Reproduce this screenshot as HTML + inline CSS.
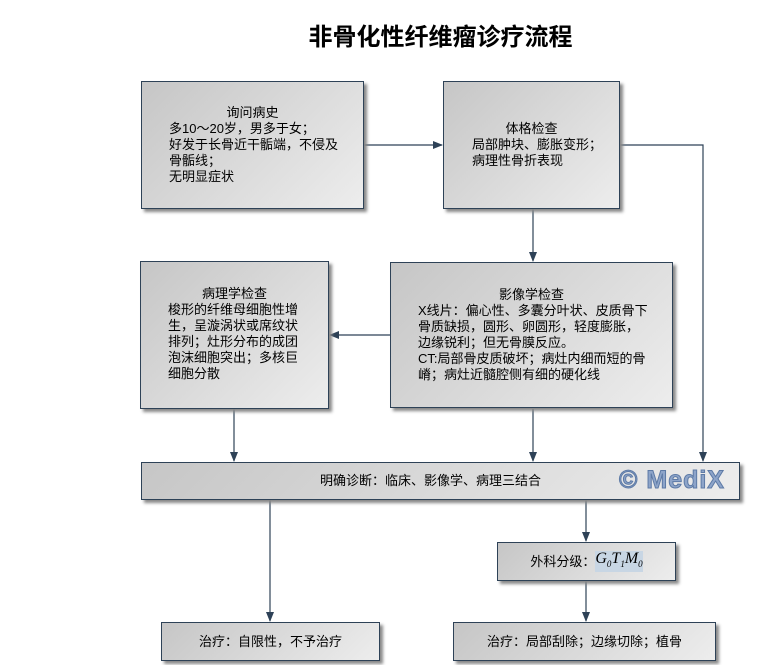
<!DOCTYPE html>
<html><head><meta charset="utf-8"><style>
body{margin:0;width:761px;height:665px;background:#fff;position:relative;overflow:hidden;font-family:"Liberation Sans","WenQuanYi Zen Hei","Noto Sans CJK SC",sans-serif;}
.b{position:absolute;box-sizing:border-box;border:1px solid #2e4257;background:linear-gradient(135deg,#c6c6c6,#ededed);box-shadow:3px 3px 3px #888;font-size:13px;line-height:16px;color:#000;}
.t{text-align:center;}
.c{display:flex;align-items:center;justify-content:center;}
h1{position:absolute;left:0;width:881px;top:17px;margin:0;text-align:center;font-size:24px;font-weight:bold;font-family:"Noto Sans CJK SC","WenQuanYi Zen Hei",sans-serif;}
svg{position:absolute;left:0;top:0;}
</style></head><body>
<h1>非骨化性纤维瘤诊疗流程</h1>
<svg width="761" height="665">
<defs><marker id="a" markerWidth="10" markerHeight="8" refX="9" refY="4" orient="auto" markerUnits="userSpaceOnUse"><path d="M0,0 L10,4 L0,8 z" fill="#2e4257"/></marker></defs>
<g stroke="#2e4257" stroke-width="1.2" fill="none">
<line x1="364" y1="145" x2="442" y2="145" marker-end="url(#a)"/>
<polyline points="620,145 703,145 703,461" marker-end="url(#a)"/>
<line x1="533" y1="209" x2="533" y2="261" marker-end="url(#a)"/>
<line x1="390" y1="335" x2="330" y2="335" marker-end="url(#a)"/>
<line x1="234" y1="409" x2="234" y2="461" marker-end="url(#a)"/>
<line x1="533" y1="409" x2="533" y2="461" marker-end="url(#a)"/>
<line x1="270" y1="500" x2="270" y2="621" marker-end="url(#a)"/>
<line x1="586" y1="500" x2="586" y2="541" marker-end="url(#a)"/>
<line x1="586" y1="581" x2="586" y2="621" marker-end="url(#a)"/>
</g></svg>
<div class="b" style="left:141px;top:81px;width:223px;height:128px;padding:23px 0 0 27px;"><div class="t" style="margin-right:27px">询问病史</div>多10～20岁，男多于女；<br>好发于长骨近干骺端，不侵及<br>骨骺线；<br>无明显症状</div>
<div class="b" style="left:443px;top:81px;width:177px;height:128px;padding:39px 0 0 28px;"><div class="t" style="margin-right:28px">体格检查</div>局部肿块、膨胀变形；<br>病理性骨折表现</div>
<div class="b" style="left:140px;top:261px;width:189px;height:148px;padding:24px 0 0 27px;"><div class="t" style="margin-right:27px">病理学检查</div>梭形的纤维母细胞性增<br>生，呈漩涡状或席纹状<br>排列；灶形分布的成团<br>泡沫细胞突出；多核巨<br>细胞分散</div>
<div class="b" style="left:390px;top:262px;width:283px;height:146px;padding:24px 0 0 27px;"><div class="t" style="margin-right:27px">影像学检查</div>X线片：偏心性、多囊分叶状、皮质骨下<br>骨质缺损，圆形、卵圆形，轻度膨胀，<br>边缘锐利；但无骨膜反应。<br>CT:局部骨皮质破坏；病灶内细而短的骨<br>嵴；病灶近髓腔侧有细的硬化线</div>
<div class="b c" style="left:141px;top:462px;width:599px;height:38px;padding-right:20px;">明确诊断：临床、影像学、病理三结合</div>
<div style="position:absolute;left:619px;top:466px;font:bold 25px 'Liberation Sans',sans-serif;color:#8da4c9;-webkit-text-stroke:1px #5d7aa6;letter-spacing:1px;">© MediX</div>
<div class="b c" style="left:497px;top:542px;width:179px;height:39px;">外科分级：<span style="font-family:'Liberation Serif',serif;font-style:italic;font-size:16px;background:#c8d6e4">G<sub style="font-size:9px">0</sub>T<sub style="font-size:9px">1</sub>M<sub style="font-size:9px">0</sub></span></div>
<div class="b c" style="left:161px;top:622px;width:219px;height:39px;">治疗：自限性，不予治疗</div>
<div class="b c" style="left:453px;top:622px;width:263px;height:39px;">治疗：局部刮除；边缘切除；植骨</div>
</body></html>
